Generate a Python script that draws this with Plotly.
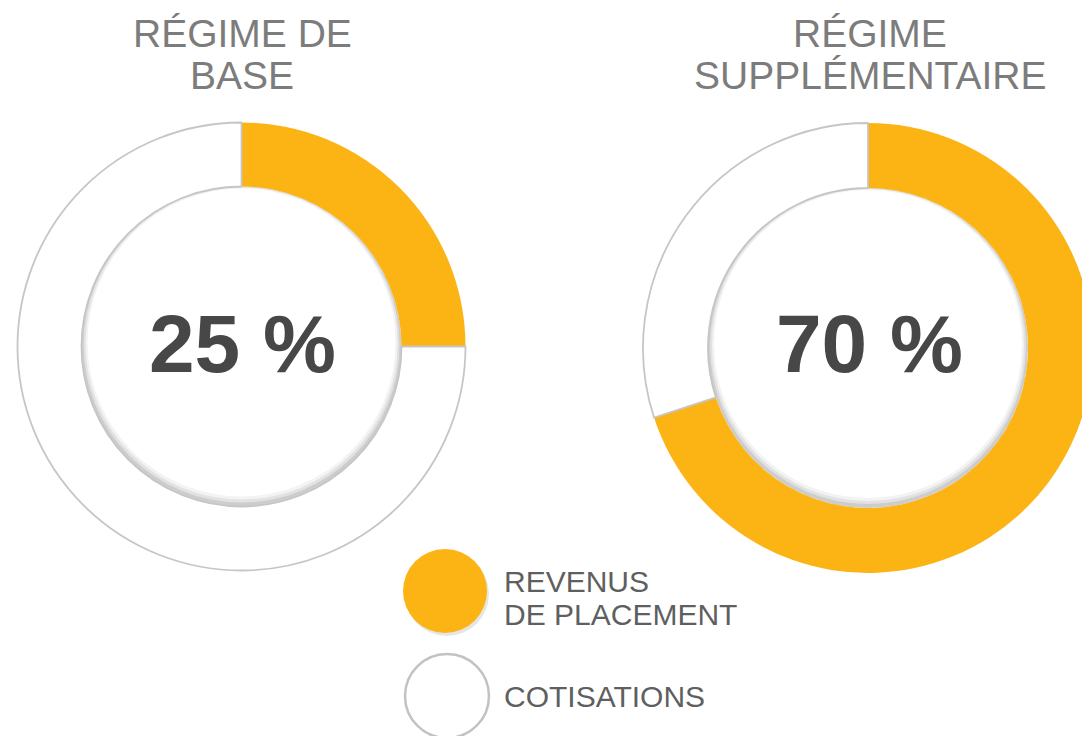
import plotly.graph_objects as go

# ---------------- data ----------------
categories = ["REVENUS DE PLACEMENT", "COTISATIONS"]
base_values = [25, 75]          # Régime de base
supp_values = [70, 30]          # Régime supplémentaire
center_labels = ["25 %", "70 %"]
titles_base = ["RÉGIME DE", "BASE"]
titles_supp = ["RÉGIME", "SUPPLÉMENTAIRE"]
legend_lines = [["REVENUS", "DE PLACEMENT"], ["COTISATIONS"]]

# ---------------- style ----------------
W, H = 1100, 736          # figure slightly wider than the window; right ring is cropped like the original
ORANGE = "#FCB415"
WHITE = "#FFFFFF"
EDGE = "#c6c6c6"
FONT = "Liberation Sans, Arial, sans-serif"
TITLE_C = "#7c7c7c"
NUM_C = "#474747"
LEG_C = "#5f5f5f"

# donut geometry in pixels (center x, center y, outer radius, inner radius)
donuts = [
    dict(cx=241.5, cy=346.5, r=224, ri=160),
    dict(cx=868.0, cy=348.0, r=225, ri=160),
]


def px_x(x):
    return x / W


def px_y(y):
    return 1 - y / H


fig = go.Figure()

# decorative soft shadow inside each hole (drawn under the pies)
for d in donuts:
    for rad, dy, col in [(d["ri"], 0, "#cdcdcd"), (d["ri"] - 2, -2, "#e2e2e2"),
                         (d["ri"] - 4, -3, "#f3f3f3"), (d["ri"] - 6, -4, "#ffffff")]:
        fig.add_trace(go.Scatter(
            x=[d["cx"]], y=[d["cy"] + dy], mode="markers",
            marker=dict(size=2 * rad, color=col, line=dict(width=0)),
            hoverinfo="skip", showlegend=False))

# legend markers
leg_pos = [(445, 591), (447, 696)]
fig.add_trace(go.Scatter(
    x=[leg_pos[0][0] + 2], y=[leg_pos[0][1] + 3], mode="markers",
    marker=dict(size=84, color="rgba(0,0,0,0.10)", line=dict(width=0)),
    hoverinfo="skip", showlegend=False))
fig.add_trace(go.Scatter(
    x=[p[0] for p in leg_pos], y=[p[1] for p in leg_pos], mode="markers",
    marker=dict(size=84, color=[ORANGE, WHITE],
                line=dict(width=[0, 2.5], color=[ORANGE, "#c2c2c2"])),
    hovertext=categories, hoverinfo="text", showlegend=False))

# donuts
for d, vals in zip(donuts, [base_values, supp_values]):
    fig.add_trace(go.Pie(
        labels=categories, values=vals, sort=False, direction="clockwise",
        rotation=0, hole=d["ri"] / d["r"], textinfo="none",
        marker=dict(colors=[ORANGE, WHITE],
                    line=dict(color=[ORANGE, EDGE], width=[0, 1.8])),
        domain=dict(x=[px_x(d["cx"] - d["r"]), px_x(d["cx"] + d["r"])],
                    y=[px_y(d["cy"] + d["r"]), px_y(d["cy"] - d["r"])]),
        showlegend=False))

ann = []
# titles
for cx, lines in [(242, titles_base), (870, titles_supp)]:
    for ycap, t in zip([33, 75], lines):
        ann.append(dict(x=cx, y=ycap, xref="x", yref="y", text=t, showarrow=False,
                        xanchor="center", yanchor="middle",
                        font=dict(family=FONT, size=39, color=TITLE_C)))
# center numbers
for d, lab, cx in zip(donuts, center_labels, [242, 869]):
    ann.append(dict(x=cx, y=343, xref="x", yref="y", text="<b>%s</b>" % lab,
                    showarrow=False, xanchor="center", yanchor="middle",
                    font=dict(family=FONT, size=82, color=NUM_C)))
# legend text
for ycap, t in zip([581, 614], legend_lines[0]):
    ann.append(dict(x=502, y=ycap, xref="x", yref="y", text=t, showarrow=False,
                    xanchor="left", yanchor="middle",
                    font=dict(family=FONT, size=30, color=LEG_C)))
ann.append(dict(x=502, y=696, xref="x", yref="y", text=legend_lines[1][0],
                showarrow=False, xanchor="left", yanchor="middle",
                font=dict(family=FONT, size=30, color=LEG_C)))

fig.update_layout(
    width=W, height=H, margin=dict(l=0, r=0, t=0, b=0),
    paper_bgcolor="white", plot_bgcolor="white",
    xaxis=dict(range=[0, W], visible=False, domain=[0, 1], fixedrange=True),
    yaxis=dict(range=[H, 0], visible=False, domain=[0, 1], fixedrange=True),
    annotations=ann, showlegend=False)

fig.write_html(
    "out.html",
    config={"displayModeBar": False},
    post_script="document.body.style.margin='0';document.body.style.overflow='hidden';",
)
